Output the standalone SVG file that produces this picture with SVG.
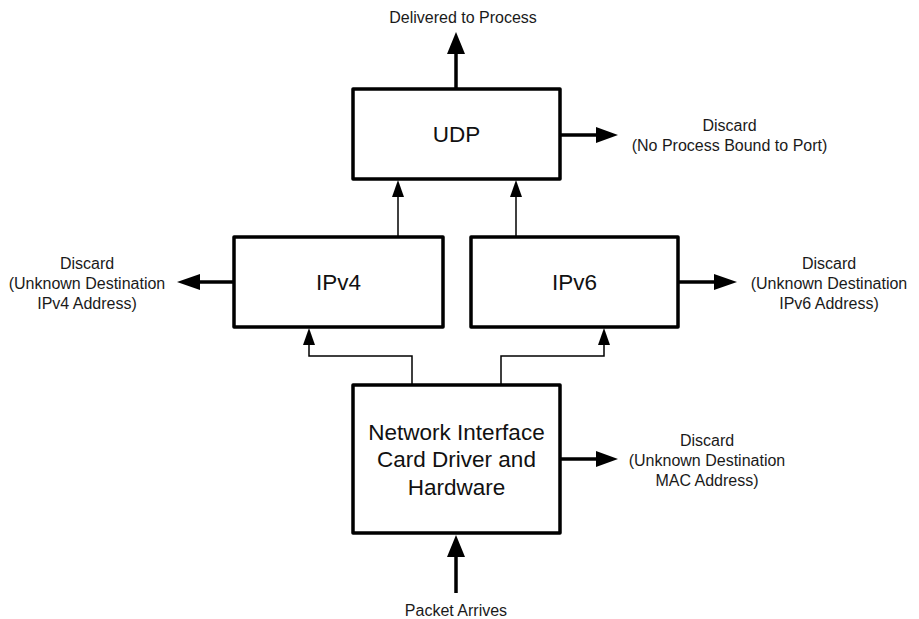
<svg xmlns="http://www.w3.org/2000/svg" width="919" height="619" viewBox="0 0 919 619">
<defs>
<style>
.box{fill:#fff;stroke:#000;stroke-width:3.5;stroke-linejoin:round}
.lbl{font-family:"Liberation Sans",Arial,sans-serif;font-size:22.5px;fill:#111;text-anchor:middle}
.sm{font-family:"Liberation Sans",Arial,sans-serif;font-size:16px;fill:#1a1a1a;text-anchor:middle}
.thick{fill:none;stroke:#000;stroke-width:3.5}
.thin{fill:none;stroke:#000;stroke-width:1.5}
.head{fill:#000;stroke:none}
</style>
</defs>
<rect width="919" height="619" fill="#fff"/>
<g id="connectors">
<!-- UDP up -->
<line class="thick" x1="456" y1="89" x2="456" y2="52"/>
<polygon class="head" points="456,32 447,54 465,54"/>
<!-- UDP right -->
<line class="thick" x1="560" y1="135" x2="598" y2="135"/>
<polygon class="head" points="618,135 596,127 596,143"/>
<!-- IPv4 to UDP -->
<line class="thin" x1="398" y1="237" x2="398" y2="195"/>
<polygon class="head" points="398,180 392,197 404,197"/>
<!-- IPv6 to UDP -->
<line class="thin" x1="516" y1="237" x2="516" y2="195"/>
<polygon class="head" points="516,180 510,197 522,197"/>
<!-- IPv4 left -->
<line class="thick" x1="234" y1="282" x2="198" y2="282"/>
<polygon class="head" points="177,282 200,274 200,290"/>
<!-- IPv6 right -->
<line class="thick" x1="678" y1="282" x2="716" y2="282"/>
<polygon class="head" points="737,282 714,274 714,290"/>
<!-- NIC to IPv4 -->
<polyline class="thin" points="412,386 412,356 309,356 309,343"/>
<polygon class="head" points="309,328 303,345 315,345"/>
<!-- NIC to IPv6 -->
<polyline class="thin" points="501,386 501,356 604,356 604,343"/>
<polygon class="head" points="604,328 598,345 610,345"/>
<!-- NIC right -->
<line class="thick" x1="560" y1="459" x2="598" y2="459"/>
<polygon class="head" points="618,459 596,451 596,467"/>
<!-- Packet arrives -->
<line class="thick" x1="456" y1="593" x2="456" y2="555"/>
<polygon class="head" points="456,535 447,557 465,557"/>
</g>
<g id="udp">
<rect class="box" x="353" y="89" width="207" height="90"/>
<text class="lbl" x="456.5" y="142">UDP</text>
</g>
<g id="ipv4">
<rect class="box" x="234" y="237" width="209" height="90"/>
<text class="lbl" x="338.5" y="290">IPv4</text>
</g>
<g id="ipv6">
<rect class="box" x="471" y="237" width="207" height="90"/>
<text class="lbl" x="574.5" y="290">IPv6</text>
</g>
<g id="nic">
<rect class="box" x="353" y="385" width="207" height="148"/>
<text class="lbl" x="456.5" y="440">Network Interface</text>
<text class="lbl" x="456.5" y="467">Card Driver and</text>
<text class="lbl" x="456.5" y="495">Hardware</text>
</g>
<g id="labels">
<text class="sm" x="463" y="23">Delivered to Process</text>
<text class="sm" x="729.5" y="131">Discard</text>
<text class="sm" x="729.5" y="151">(No Process Bound to Port)</text>
<text class="sm" x="87" y="269">Discard</text>
<text class="sm" x="87" y="289">(Unknown Destination</text>
<text class="sm" x="87" y="309">IPv4 Address)</text>
<text class="sm" x="829" y="269">Discard</text>
<text class="sm" x="829" y="289">(Unknown Destination</text>
<text class="sm" x="829" y="309">IPv6 Address)</text>
<text class="sm" x="707" y="446">Discard</text>
<text class="sm" x="707" y="466">(Unknown Destination</text>
<text class="sm" x="707" y="486">MAC Address)</text>
<text class="sm" x="456" y="616">Packet Arrives</text>
</g>
</svg>
